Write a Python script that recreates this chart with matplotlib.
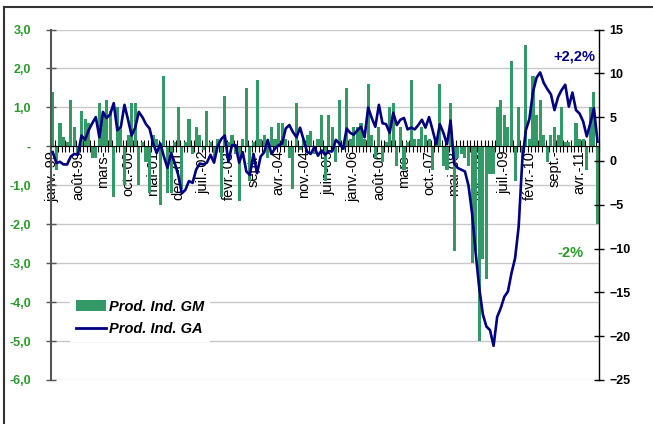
import matplotlib
matplotlib.use("Agg")
import matplotlib.pyplot as plt
from matplotlib.patches import Patch
from matplotlib.lines import Line2D
import numpy as np

plt.rcParams['font.family'] = ['Liberation Sans', 'DejaVu Sans']

# Monthly data: Jan 1999 .. Sep 2011
gm = [1.4, -0.6, 0.6, 0.25, 0.1, 1.2, 0.5, -0.2, 0.9, 0.7,
      0.6, -0.3, -0.3, 1.1, 0.8, 1.2, 0.9, -1.3, 1.0, 0.5,
      -1.0, 0.3, 1.1, 1.1, -1.0, 0.1, -0.4, -1.2, 0.3, 0.2,
      -1.5, 1.8, -1.2, -1.2, 0.1, 1.0, -1.1, 0.1, 0.7, -0.2,
      0.5, 0.3, -0.1, 0.9, 0.1, -0.3, 0.2, -1.3, 1.3, 0.1,
      0.3, -0.2, -1.4, 0.2, 1.5, -0.9, 0.1, 1.7, 0.2, 0.3,
      -0.3, 0.5, 0.2, 0.6, 0.6, 0.2, -0.3, -1.1, 1.1, -0.1,
      0.2, 0.3, 0.4, -0.2, 0.2, 0.8, -0.9, 0.8, 0.5, -0.4,
      1.2, -0.1, 1.5, 0.2, 0.5, 0.5, 0.6, 0.2, 1.6, 0.3,
      -0.3, 0.5, -0.4, 0.1, 1.0, 1.1, -0.5, 0.5, -0.6, 0.1,
      1.7, 0.2, 0.2, 0.5, 0.3, 0.2, -0.6, 0.2, 1.6, -0.5,
      -0.6, 1.1, -2.7, -0.3, -0.2, -0.3, -0.5, -3.0, -2.7, -5.0,
      -2.9, -3.4, -0.7, -0.7, 1.0, 1.2, 0.8, 0.5, 2.2, -0.9,
      1.0, -0.3, 2.6, 0.2, 1.8, 0.8, 1.2, 0.3, -0.4, 0.3,
      0.5, 0.3, 1.0, 0.1, 0.1, 0.0, 0.6, 0.2, 0.2, -0.6,
      1.0, 1.4, -2.0]

ga = [1.0, -0.25, -0.1, -0.4, -0.4, 0.5, 0.8, 0.7, 2.9, 2.4,
      3.5, 4.3, 5.0, 2.7, 5.6, 4.9, 5.3, 6.6, 3.5, 3.9,
      6.4, 4.7, 2.9, 3.8, 5.6, 5.0, 4.2, 3.7, 2.0, 0.9,
      2.0, 0.5, -0.8, 0.9, -0.2, -1.6, -3.7, -3.3, -2.3, -2.5,
      -1.0, -0.3, -0.4, -0.2, 0.7, -0.2, 1.7, 2.5, 2.9, -0.1,
      1.8, 1.8, -0.2, 1.0, -1.2, -1.6, 0.8, -1.4, 0.5, 1.0,
      2.4, 0.8, 1.4, 1.8, 2.0, 3.7, 4.1, 3.3, 2.7, 3.8,
      2.4, 1.0, 0.8, 1.6, 0.6, 1.2, 0.7, 1.1, 1.1, 2.4,
      2.0, 1.4, 3.7, 3.2, 3.0, 3.5, 3.9, 2.7, 6.1, 4.9,
      3.9, 6.4, 4.3, 4.2, 3.2, 5.5, 4.1, 4.7, 4.9, 3.6,
      3.8, 3.6, 4.1, 4.7, 3.8, 5.0, 3.5, 1.9, 4.2, 3.2,
      1.9, 4.6, -0.3, -0.8, -1.0, -1.2, -2.8, -6.0, -10.5, -14.5,
      -17.5, -18.9, -19.3, -21.1, -17.8, -16.8, -15.5, -14.9, -12.8, -11.1,
      -7.5, 0.0, 3.5, 4.8, 7.9, 9.5, 10.1, 8.9, 8.2, 7.6,
      5.8, 7.3, 8.1, 8.7, 6.2, 7.8, 5.8, 5.4, 4.5, 2.8,
      4.3, 6.0, 2.2]

tick_labels = ["janv.-99", "août-99", "mars-", "oct.-00", "mai-01", "déc.-01",
               "juil.-02", "févr.-03", "sept.-", "avr.-04", "nov.-04", "juin-05",
               "janv.-06", "août-06", "mars-", "oct.-07", "mai-08", "déc.-08",
               "juil.-09", "févr.-10", "sept.-", "avr.-11"]
left_ticks = [3, 2, 1, 0, -1, -2, -3, -4, -5, -6]
left_labels = ["3,0", "2,0", "1,0", "-", "-1,0", "-2,0", "-3,0", "-4,0", "-5,0", "-6,0"]
right_ticks = [15, 10, 5, 0, -5, -10, -15, -20, -25]

BAR = '#339966'
LINE = '#000080'
GTXT = '#2a9a2a'

W, H = 653, 424
fig = plt.figure(figsize=(W / 100, H / 100), dpi=100)
x0, x1, y0, y1 = 51, 599.3, 29.5, 380
ax = fig.add_axes([x0 / W, 1 - y1 / H, (x1 - x0) / W, (y1 - y0) / H])
ax2 = ax.twinx()

n = len(gm)
idx = np.arange(n)
ax.bar(idx, gm, width=0.86, color=BAR, linewidth=0, zorder=2)
ax.set_xlim(-0.5, n - 0.5)
ax.set_ylim(-6, 3)
ax.set_yticks(left_ticks)
ax.set_yticklabels(left_labels)
for t in ax.get_yticklabels():
    t.set_color(GTXT)
    t.set_fontweight('bold')
    t.set_fontsize(9)
ax.tick_params(axis='y', direction='inout', length=7, width=1, color='#555555', pad=11)

# gridlines
for v in left_ticks:
    if v != 0:
        ax.axhline(v, color='#c8c8c8', lw=1, zorder=0)

ax2.plot(idx, ga, color=LINE, lw=1.9, zorder=5)
ax2.set_ylim(-25, 15)
ax2.set_yticks(right_ticks)
for t in ax2.get_yticklabels():
    t.set_fontweight('bold')
    t.set_fontsize(9)
ax2.tick_params(axis='y', direction='inout', length=7, width=1, color='black', pad=4)

# x axis at zero of the left scale
ax.spines['bottom'].set_position(('data', 0))
ax.spines['bottom'].set_color('black')
ax.spines['bottom'].set_zorder(4)
ax.set_xticks(idx[::7])
ax.set_xticklabels(tick_labels, rotation=90, fontsize=10.5, va='top', ha='center')
ax.set_xticks(np.arange(-0.5, n, 1.0), minor=True)
ax.tick_params(axis='x', which='major', length=0, pad=3)
ax.tick_params(axis='x', which='minor', direction='inout', length=8, width=0.8, color='black')

for sp in ['top']:
    ax.spines[sp].set_visible(False)
    ax2.spines[sp].set_visible(False)
ax2.spines['bottom'].set_visible(False)
ax2.spines['left'].set_visible(False)
ax.spines['right'].set_visible(False)
ax.spines['left'].set_color('#555555')
ax.spines['left'].set_linewidth(1.5)
ax2.spines['right'].set_color('black')
ax2.spines['right'].set_linewidth(1)

ax2.text(151.3, 11.9, "+2,2%", color=LINE, fontsize=10.5, fontweight='bold',
         ha='right', va='center')
ax2.text(144.5, -10.5, "-2%", color=GTXT, fontsize=10.5, fontweight='bold',
         ha='center', va='center')

handles = [Patch(facecolor=BAR, edgecolor='none'), Line2D([0], [0], color=LINE, lw=2)]
leg = ax2.legend(handles, ["Prod. Ind. GM", "Prod. Ind. GA"], loc='upper left',
                 bbox_to_anchor=(70 / W, 1 - 294 / H), bbox_transform=fig.transFigure,
                 frameon=True, fancybox=False, framealpha=1, edgecolor='none',
                 borderaxespad=0, borderpad=0.4, handlelength=2.1, handleheight=0.75,
                 handletextpad=0.2, labelspacing=0.55,
                 prop={'size': 10.5, 'weight': 'bold', 'style': 'italic'})
leg.set_zorder(10)

# chart frame (top and left edges)
fig.add_artist(Line2D([4 / W, 1], [1 - 7 / H, 1 - 7 / H], color='#333333', lw=1.5))
fig.add_artist(Line2D([4 / W, 4 / W], [1 - 7 / H, 0], color='#333333', lw=1.5))

fig.savefig("out.png", dpi=100)
